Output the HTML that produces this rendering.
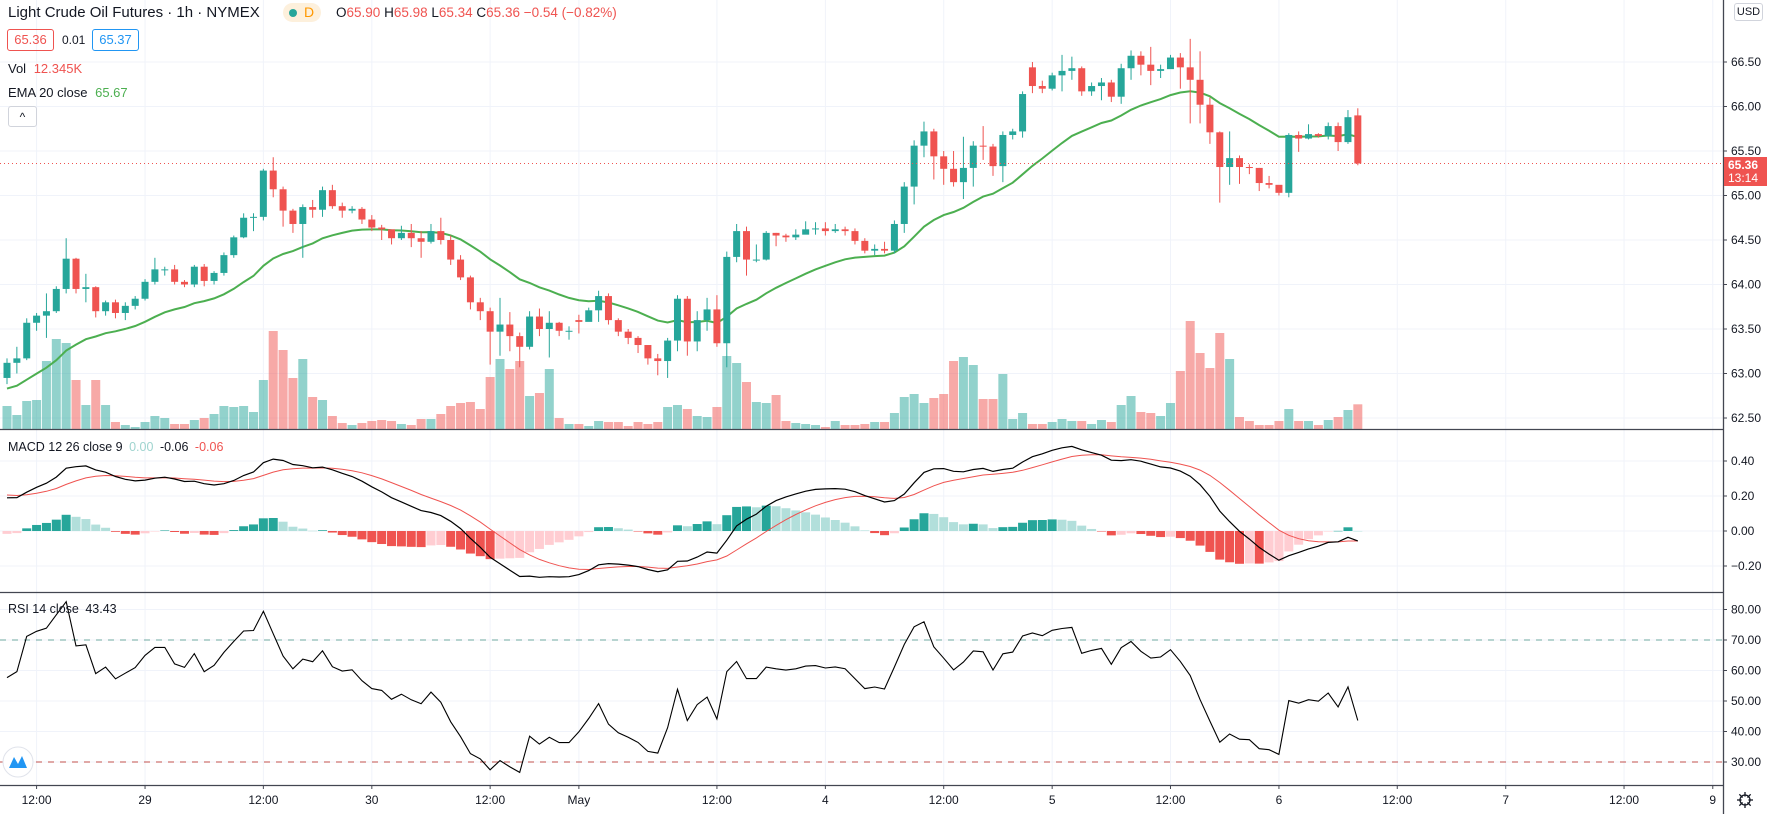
<!DOCTYPE html>
<html><head><meta charset="utf-8">
<style>
html,body{margin:0;padding:0;background:#fff;width:1767px;height:814px;overflow:hidden;font-family:"Liberation Sans",sans-serif;}
svg{position:absolute;left:0;top:0;}
.lg{position:absolute;font-size:13px;color:#131722;white-space:nowrap;}
</style></head><body>
<svg id="chart" width="1767" height="814" xmlns="http://www.w3.org/2000/svg"></svg>

<div class="lg" style="left:8px;top:4px;font-size:15px;">Light Crude Oil Futures · 1h · NYMEX</div>
<div style="position:absolute;left:283px;top:3px;width:38px;height:19px;border-radius:10px;background:#fdf0dc;"></div>
<div style="position:absolute;left:289px;top:9px;width:8px;height:8px;border-radius:4px;background:#26a69a;"></div>
<div class="lg" style="left:304px;top:4px;font-size:14px;color:#ff9800;">D</div>
<div class="lg" style="left:336px;top:5px;font-size:13.5px;color:#ef5350;"><span style="color:#131722">O</span>65.90 <span style="color:#131722">H</span>65.98 <span style="color:#131722">L</span>65.34 <span style="color:#131722">C</span>65.36 −0.54 (−0.82%)</div>
<div class="lg" style="left:7px;top:29px;width:45px;height:20px;border:1px solid #ef5350;border-radius:3px;color:#ef5350;text-align:center;line-height:20px;font-size:13px;">65.36</div>
<div class="lg" style="left:62px;top:33px;font-size:12px;">0.01</div>
<div class="lg" style="left:92px;top:29px;width:45px;height:20px;border:1px solid #2196f3;border-radius:3px;color:#2196f3;text-align:center;line-height:20px;font-size:13px;">65.37</div>
<div class="lg" style="left:8px;top:61px;">Vol <span style="color:#ef5350;margin-left:4px">12.345K</span></div>
<div class="lg" style="left:8px;top:85px;">EMA 20 close <span style="color:#4caf50;margin-left:4px">65.67</span></div>
<div style="position:absolute;left:8px;top:106px;width:27px;height:19px;border:1px solid #d1d4dc;border-radius:3px;font-size:12px;text-align:center;line-height:20px;color:#131722;">^</div>
<div class="lg" style="left:8px;top:440px;font-size:12.5px;">MACD 12 26 close 9 <span style="color:#9fd4cf;margin-left:3px">0.00</span> <span style="margin-left:3px">-0.06</span> <span style="color:#ef5350;margin-left:3px">-0.06</span></div>
<div class="lg" style="left:8px;top:602px;font-size:12.5px;">RSI 14 close <span style="margin-left:3px">43.43</span></div>
<div class="lg" style="left:1734px;top:3px;width:27px;height:16px;border:1px solid #d1d4dc;border-radius:3px;font-size:11px;text-align:center;line-height:16px;">USD</div>

<script>
const opens=[62.95,63.12,63.17,63.57,63.65,63.70,63.95,64.29,63.95,63.97,
63.70,63.80,63.68,63.76,63.84,64.03,64.17,64.17,64.03,64.00,
64.20,64.04,64.13,64.33,64.53,64.75,64.76,65.28,65.07,64.83,
64.68,64.87,64.84,65.06,64.88,64.83,64.85,64.73,64.64,64.62,
64.52,64.58,64.52,64.48,64.60,64.50,64.28,64.08,63.80,63.70,
63.47,63.55,63.42,63.30,63.64,63.50,63.57,63.48,63.60,63.58,
63.71,63.87,63.60,63.47,63.40,63.32,63.17,63.14,63.37,63.84,
63.36,63.60,63.72,63.34,64.31,64.60,64.28,64.28,64.58,64.55,
64.53,64.56,64.62,64.63,64.60,64.62,64.60,64.49,64.38,64.40,
64.38,64.68,65.10,65.56,65.72,65.44,65.30,65.15,65.31,65.56,
65.55,65.33,65.68,65.72,66.44,66.23,66.20,66.35,66.40,66.43,
66.17,66.23,66.27,66.11,66.43,66.57,66.47,66.40,66.42,66.55,
66.44,66.30,66.02,65.71,65.32,65.42,65.32,65.31,65.14,65.12,
65.03,65.68,65.64,65.69,65.67,65.78,65.60,65.90];
const highs=[63.17,63.3,63.62,63.68,63.9,63.98,64.52,64.3,64.12,63.98,
63.82,63.83,63.8,63.87,64.06,64.3,64.2,64.22,64.05,64.22,
64.23,64.15,64.36,64.55,64.8,64.8,65.3,65.43,65.1,64.85,
64.9,64.95,65.1,65.12,64.92,64.88,64.87,64.78,64.67,64.54,
64.66,64.68,64.6,64.68,64.75,64.55,64.33,64.1,63.85,63.74,
63.85,63.69,63.46,63.7,63.73,63.7,63.58,63.53,63.66,63.74,
63.93,63.9,63.62,63.5,63.42,63.28,63.22,63.4,63.88,63.87,
63.7,63.85,63.88,64.37,64.68,64.65,64.45,64.6,64.58,64.57,
64.62,64.71,64.7,64.7,64.68,64.65,64.63,64.52,64.45,64.48,
64.72,65.15,65.62,65.83,65.75,65.5,65.5,65.66,65.61,65.78,
65.58,65.72,65.75,66.17,66.5,66.29,66.38,66.58,66.56,66.45,
66.27,66.32,66.3,66.48,66.63,66.62,66.67,66.47,66.58,66.6,
66.76,66.62,66.1,65.72,65.72,65.45,65.35,65.31,65.22,65.07,
65.7,65.72,65.8,65.7,65.82,65.82,65.96,65.98];
const lows=[62.88,63.0,63.15,63.48,63.4,63.68,63.9,63.9,63.8,63.63,
63.65,63.62,63.6,63.72,63.82,64.0,64.1,64.0,63.97,63.97,
63.98,64.0,64.1,64.3,64.52,64.6,64.72,64.98,64.65,64.58,
64.3,64.75,64.76,64.85,64.75,64.8,64.68,64.6,64.5,64.45,
64.5,64.42,64.3,64.46,64.45,64.22,64.05,63.72,63.6,63.1,
63.2,63.25,63.07,63.27,63.42,63.18,63.42,63.38,63.45,63.62,
63.58,63.55,63.42,63.33,63.23,63.1,62.98,62.95,63.25,63.2,
63.25,63.48,63.3,63.07,64.25,64.1,64.25,64.27,64.43,64.48,
64.5,64.58,64.56,64.55,64.58,64.55,64.45,64.35,64.33,64.35,
64.35,64.58,64.9,65.43,65.18,65.12,65.1,64.96,65.1,65.4,
65.22,65.15,65.63,65.65,66.15,66.15,66.18,66.17,66.3,66.12,
66.12,66.07,66.05,66.03,66.3,66.35,66.24,66.32,66.45,66.2,
65.81,65.81,65.58,64.92,65.12,65.13,65.24,65.05,65.08,65.0,
64.98,65.49,65.63,65.65,65.63,65.5,65.58,65.34];
const closes=[63.12,63.17,63.57,63.65,63.70,63.95,64.29,63.95,63.97,63.70,
63.80,63.68,63.76,63.84,64.03,64.17,64.17,64.03,64.00,64.20,
64.04,64.13,64.33,64.53,64.75,64.76,65.28,65.07,64.83,64.68,
64.87,64.84,65.06,64.88,64.83,64.85,64.73,64.64,64.62,64.52,
64.58,64.52,64.48,64.60,64.50,64.28,64.08,63.80,63.70,63.47,
63.55,63.42,63.30,63.64,63.50,63.57,63.48,63.48,63.58,63.71,
63.87,63.60,63.47,63.40,63.32,63.17,63.14,63.37,63.84,63.36,
63.60,63.72,63.34,64.31,64.60,64.28,64.28,64.58,64.55,64.53,
64.56,64.62,64.63,64.60,64.62,64.60,64.49,64.38,64.40,64.38,
64.68,65.10,65.56,65.72,65.44,65.30,65.15,65.31,65.56,65.55,
65.33,65.68,65.72,66.14,66.23,66.20,66.35,66.40,66.43,66.17,
66.23,66.27,66.11,66.43,66.57,66.47,66.40,66.42,66.55,66.44,
66.30,66.02,65.71,65.32,65.42,65.32,65.31,65.14,65.12,65.03,
65.68,65.64,65.69,65.67,65.78,65.60,65.88,65.36];
const volumes=[11.5,7,14,14.5,34,45,43,24.5,12,24.5,
12,3.5,2,1,3.5,6.5,5.5,2.5,2.5,4.5,
5.5,7.5,11.5,11,11.5,8.5,24.5,49,39.5,25.5,
35,16,14.5,6.5,3,2,3,4,4.5,4,
2.5,2,5,5,7.5,11.5,13,13.5,10,26,
35,30,34,16.5,18,30,5.5,2.5,2.5,1.5,
4,3.5,3.5,1.5,3.5,2.5,3.5,11,12,10,
6.5,6,11,36.5,33,23.5,13.5,13,17,4,
3,2.5,2,1,4,2,2,2.5,3.5,3.5,
8,16,17.5,13,15.5,17.5,34,36,32,15,
15,27.5,5,8,2.5,2.5,3.5,5,4,4,
2.5,4.5,3.5,12,16.5,8.5,8,6.5,13,29,
54,38,30.5,48,35,6,4,2,2,4,
10,4,4,2,4.5,6,9.5,12.345];
const priceTicks=[66.5,66,65.5,65,64.5,64,63.5,63,62.5];
const macdTicks=[0.4,0.2,0,-0.2];
const rsiTicks=[80,70,60,50,40,30];
const timeLabels=['12:00','29','12:00','30','12:00','May','12:00','4','12:00','5','12:00','6','12:00','7','12:00','9'];
const timeIdx=[3,14,26,37,49,58,72,83,95,106,118,129,141,152,164,173];
const emaSeed=62.8, ema12Seed=62.95, ema26Seed=62.76, signalSeed=0.21, rsiGainSeed=0.036, rsiLossSeed=0.036;
const lastPrice=65.36;

const NS='http://www.w3.org/2000/svg';
const svg=document.getElementById('chart');
const AX=1723, X0=7, STEP=9.86;
const xOf=i=>X0+i*STEP;
const yP=p=>62+(66.5-p)*89;
const yV=v=>429-v*2;
const yM=m=>531-m*175;
const yR=r=>762-(r-30)*3.05;
function mk(tag,attrs,parent){const e=document.createElementNS(NS,tag);for(const k in attrs)e.setAttribute(k,attrs[k]);(parent||svg).appendChild(e);return e;}
const UP='#26a69a',DN='#ef5350';

const defs=mk('defs',{});
[['cMain',0,430],['cMacd',430,162],['cRsi',593,192]].forEach(c=>{const cp=mk('clipPath',{id:c[0]},defs);mk('rect',{x:0,y:c[1],width:AX,height:c[2]},cp);});

const grid=mk('g',{});


timeIdx.forEach(i=>{const x=xOf(i);mk('line',{x1:x,x2:x,y1:0,y2:785,stroke:'#f0f3fa','stroke-width':1},grid);});
priceTicks.forEach(p=>mk('line',{x1:0,x2:AX,y1:yP(p),y2:yP(p),stroke:'#f0f3fa'},grid));
macdTicks.forEach(p=>mk('line',{x1:0,x2:AX,y1:yM(p),y2:yM(p),stroke:'#f0f3fa'},grid));
rsiTicks.forEach(p=>mk('line',{x1:0,x2:AX,y1:yR(p),y2:yR(p),stroke:'#f0f3fa'},grid));

const gv=mk('g',{'clip-path':'url(#cMain)'});


volumes.forEach((v,i)=>{const up=closes[i]>=opens[i];const r=mk('rect',{x:xOf(i)-4.5,y:yV(v),width:9,height:429-yV(v),fill:up?'rgba(38,166,154,0.5)':'rgba(239,83,80,0.5)'},gv);

});

let e=emaSeed;const k20=2/21;const emaPts=[];
closes.forEach((c,i)=>{e=c*k20+e*(1-k20);emaPts.push(xOf(i).toFixed(1)+','+yP(e).toFixed(1));});
const emaL=mk('polyline',{points:emaPts.join(' '),fill:'none',stroke:'#4caf50','stroke-width':2,'clip-path':'url(#cMain)'});



const gc=mk('g',{'clip-path':'url(#cMain)'});


closes.forEach((c,i)=>{const o=opens[i];const col=c>=o?UP:DN;const x=xOf(i);
const w=mk('line',{x1:x,x2:x,y1:yP(highs[i]),y2:yP(lows[i]),stroke:col,'stroke-width':1},gc);


const t=Math.min(yP(o),yP(c));const h=Math.max(1,Math.abs(yP(o)-yP(c)));
const b=mk('rect',{x:x-3.5,y:t,width:7,height:h,fill:col},gc);

});

const lp=mk('line',{x1:0,x2:AX,y1:yP(lastPrice),y2:yP(lastPrice),stroke:'#ef5350','stroke-width':1,'stroke-dasharray':'1,3'});



let e12=ema12Seed,e26=ema26Seed,sig=signalSeed;const mPts=[],sPts=[],hist=[];
closes.forEach((c,i)=>{e12=c*2/13+e12*11/13;e26=c*2/27+e26*25/27;const m=e12-e26;sig=m*0.2+sig*0.8;mPts.push(xOf(i).toFixed(1)+','+yM(m).toFixed(1));sPts.push(xOf(i).toFixed(1)+','+yM(sig).toFixed(1));hist.push(m-sig);});
const gh=mk('g',{'clip-path':'url(#cMacd)'});


hist.forEach((h,i)=>{const prev=i>0?hist[i-1]:h;let col;if(h>=0)col=h>=prev?'#26a69a':'#b2dfdb';else col=h<prev?'#ef5350':'#ffcdd2';
const y1=Math.min(yM(0),yM(h));const r=mk('rect',{x:xOf(i)-4.5,y:y1,width:9,height:Math.max(0.5,Math.abs(yM(h)-yM(0))),fill:col},gh);

});
const sl=mk('polyline',{points:sPts.join(' '),fill:'none',stroke:'#ef5350','stroke-width':1,'clip-path':'url(#cMacd)'});


const ml=mk('polyline',{points:mPts.join(' '),fill:'none',stroke:'#000','stroke-width':1.2,'clip-path':'url(#cMacd)'});



const b70=mk('line',{x1:0,x2:AX,y1:yR(70),y2:yR(70),stroke:'#6fa8a0','stroke-dasharray':'6,6'});


const b30=mk('line',{x1:0,x2:AX,y1:yR(30),y2:yR(30),stroke:'#c0504d','stroke-dasharray':'6,6'});


let ag=rsiGainSeed,al=rsiLossSeed;const rPts=[];
closes.forEach((c,i)=>{const prev=i>0?closes[i-1]:opens[0];const d=c-prev;ag=(ag*13+Math.max(d,0))/14;al=(al*13+Math.max(-d,0))/14;const r=100-100/(1+ag/al);rPts.push(xOf(i).toFixed(1)+','+yR(r).toFixed(1));});
const rl=mk('polyline',{points:rPts.join(' '),fill:'none',stroke:'#000','stroke-width':1.1,'clip-path':'url(#cRsi)'});



[[429.5],[592.5],[785.5]].forEach(s=>{const l=mk('line',{x1:0,x2:AX,y1:s[0],y2:s[0],stroke:'#434651','stroke-width':1.3});

});
const ay=mk('line',{x1:AX+0.5,x2:AX+0.5,y1:0,y2:814,stroke:'#434651','stroke-width':1.3});


function tick(y,txt,name){mk('line',{x1:AX,x2:AX+4,y1:y,y2:y,stroke:'#434651'});
const tx=mk('text',{x:AX+8,y:y+4,'font-size':12,fill:'#131722','font-family':'Liberation Sans, sans-serif'});tx.textContent=txt;

}
priceTicks.forEach(p=>tick(yP(p),p.toFixed(2),'price-tick-label'));
macdTicks.forEach(p=>tick(yM(p),(p<0?'−':'')+Math.abs(p).toFixed(2),'macd-tick-label'));
rsiTicks.forEach(p=>tick(yR(p),p.toFixed(2),'rsi-tick-label'));
timeIdx.forEach((idx,j)=>{const x=xOf(idx);mk('line',{x1:x,x2:x,y1:785,y2:789,stroke:'#434651'});
const t=mk('text',{x:x,y:804,'text-anchor':'middle','font-size':12,fill:'#131722','font-family':'Liberation Sans, sans-serif'});t.textContent=timeLabels[j];

});

const lb=mk('rect',{x:AX+1,y:157,width:44,height:29,fill:'#ef5350'});


const t1=mk('text',{x:AX+5,y:169,'font-size':12,fill:'#fff','font-weight':'bold','font-family':'Liberation Sans, sans-serif'});t1.textContent='65.36';


const t2=mk('text',{x:AX+5,y:182,'font-size':12,fill:'#fff','font-family':'Liberation Sans, sans-serif'});t2.textContent='13:14';



const gear=mk('g',{});


mk('circle',{cx:1745,cy:800,r:5,fill:'none',stroke:'#131722','stroke-width':1.3},gear);
[0,45,90,135].forEach(a=>{const r=a*Math.PI/180;mk('line',{x1:1745-8*Math.cos(r),y1:800-8*Math.sin(r),x2:1745+8*Math.cos(r),y2:800+8*Math.sin(r),stroke:'#131722','stroke-width':1.3},gear);});
mk('circle',{cx:1745,cy:800,r:3.5,fill:'#fff'},gear);

const logo=mk('g',{});


mk('circle',{cx:18,cy:762,r:15,fill:'#fff',stroke:'#e0e3eb'},logo);
mk('path',{d:'M9 768 L14 757 L18 764 L22 756 L27 768 Z',fill:'#2196f3'},logo);
</script>
</body></html>
